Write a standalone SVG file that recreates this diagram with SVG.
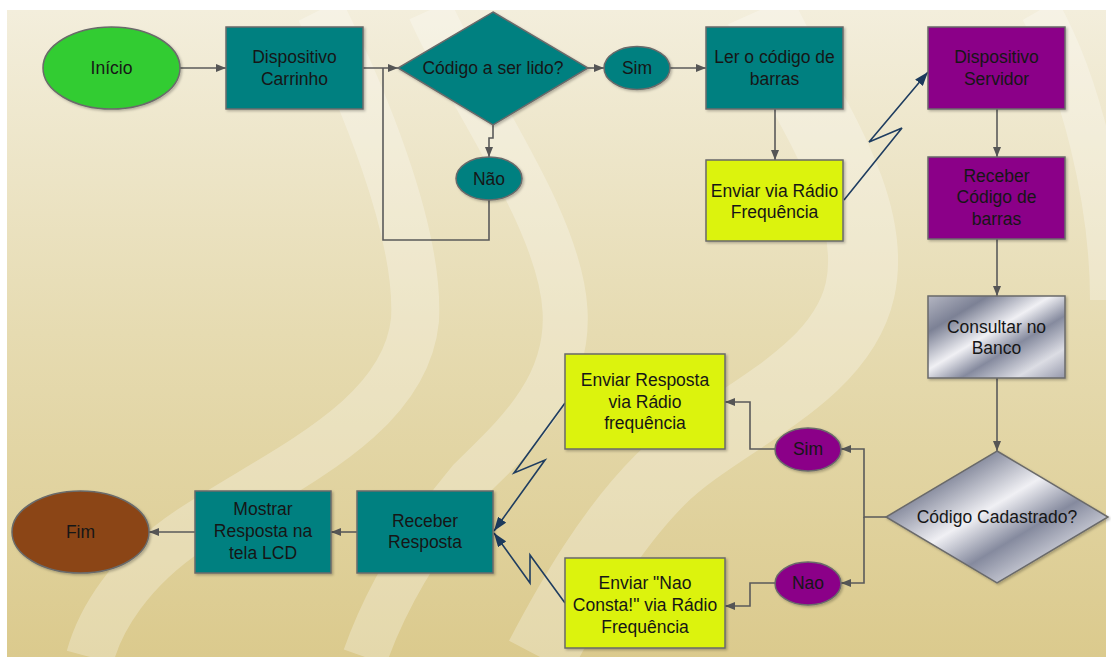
<svg xmlns="http://www.w3.org/2000/svg" width="1111" height="657" viewBox="0 0 1111 657">
<defs>
<linearGradient id="bg" x1="0" y1="0" x2="0" y2="1">
<stop offset="0" stop-color="#f3eedc"/>
<stop offset="0.5" stop-color="#e6dbb1"/>
<stop offset="1" stop-color="#dbca8d"/>
</linearGradient>
<linearGradient id="metal" x1="0" y1="0" x2="1" y2="1">
<stop offset="0" stop-color="#b4b6c2"/>
<stop offset="0.22" stop-color="#7c8195"/>
<stop offset="0.45" stop-color="#f0f0f4"/>
<stop offset="0.62" stop-color="#858a9e"/>
<stop offset="0.82" stop-color="#dcdde4"/>
<stop offset="1" stop-color="#9598ab"/>
</linearGradient>
<filter id="sh" x="-10%" y="-10%" width="125%" height="125%">
<feDropShadow dx="1.5" dy="1.5" stdDeviation="1.2" flood-color="#000" flood-opacity="0.25"/>
</filter>
<marker id="ag" viewBox="0 0 10 8" refX="10" refY="4" markerWidth="10" markerHeight="8" markerUnits="userSpaceOnUse" orient="auto">
<path d="M0,0 L10,4 L0,8 Z" fill="#555"/>
</marker>
<marker id="an" viewBox="0 0 14 10" refX="14" refY="5" markerWidth="14" markerHeight="10" markerUnits="userSpaceOnUse" orient="auto">
<path d="M0,0 L14,5 L0,10 Z" fill="#1c3a5c"/>
</marker>
<style>
.n{stroke:#6a6a6a;stroke-width:1.5;filter:url(#sh)}
.teal{fill:#008080}
.purp{fill:#8b0088}
.yel{fill:#dcf30a}
.t{font-family:"Liberation Sans",Arial,sans-serif;font-size:17.5px;fill:#161616;text-anchor:middle}
.c{fill:none;stroke:#5a5a5a;stroke-width:1.6}
.z{fill:none;stroke:#1f3d60;stroke-width:1.6;stroke-linejoin:miter}
.band{fill:none;stroke:#ffffff;stroke-opacity:0.27}
</style>
</defs>
<rect x="0" y="0" width="1111" height="657" fill="#ffffff"/>
<g id="background">
<rect x="7" y="10" width="1099" height="647" fill="url(#bg)"/>
<path class="band" stroke-width="48" d="M320,10 C360,90 420,230 415,320 C405,420 280,470 190,530 C130,570 100,620 90,657"/>
<path class="band" stroke-width="45" d="M430,10 C470,100 560,220 565,310 C570,390 510,440 470,480 C420,540 385,600 365,657"/>
<path class="band" stroke-width="70" d="M760,10 C800,100 880,200 860,290 C840,380 720,420 660,480 C610,530 570,600 540,657"/>
<path class="band" stroke-width="40" d="M1040,10 C1080,80 1110,200 1110,300"/>
</g>
<g id="connectors">
<path class="c" d="M180,68 H226" marker-end="url(#ag)"/>
<path class="c" d="M363,68 H398" marker-end="url(#ag)"/>
<path class="c" d="M489,200 V240 H383 V68"/>
<path class="c" d="M493,125 V138 H489 V157" marker-end="url(#ag)"/>
<path class="c" d="M588,68 H604" marker-end="url(#ag)"/>
<path class="c" d="M670,68 H706" marker-end="url(#ag)"/>
<path class="c" d="M775,109 V160" marker-end="url(#ag)"/>
<path class="z" d="M844,200 L902,128 L869,142 L928,72" marker-end="url(#an)"/>
<path class="c" d="M997,109 V157" marker-end="url(#ag)"/>
<path class="c" d="M997,239 V296" marker-end="url(#ag)"/>
<path class="c" d="M997,378 V451" marker-end="url(#ag)"/>
<path class="c" d="M886,517 H864 V449 H841" marker-end="url(#ag)"/>
<path class="c" d="M864,517 V583 H841" marker-end="url(#ag)"/>
<path class="c" d="M775,449 H750 V402 H725" marker-end="url(#ag)"/>
<path class="c" d="M775,583 H750 V606 H725" marker-end="url(#ag)"/>
<path class="z" d="M565,403 L514,473 L545,460 L494,531" marker-end="url(#an)"/>
<path class="z" d="M565,603 L530,555 L530,583 L494,533" marker-end="url(#an)"/>
<path class="c" d="M357,532 H331" marker-end="url(#ag)"/>
<path class="c" d="M195,532 H149" marker-end="url(#ag)"/>
</g>
<g id="inicio">
<ellipse class="n" cx="111.5" cy="68" rx="68.5" ry="41" fill="#33cc33"/>
<text class="t" x="111.5" y="74">Início</text>
</g>
<g id="carrinho">
<rect class="n teal" x="226" y="27" width="137" height="82"/>
<text class="t" x="294.5" y="63">Dispositivo</text>
<text class="t" x="294.5" y="85">Carrinho</text>
</g>
<g id="codigo-lido">
<path class="n teal" d="M493,12 L588,68 L493,125 L398,68 Z"/>
<text class="t" x="493" y="74">Código a ser lido?</text>
</g>
<g id="sim1">
<ellipse class="n teal" cx="637" cy="68" rx="33" ry="21.5"/>
<text class="t" x="637" y="74">Sim</text>
</g>
<g id="nao1">
<ellipse class="n teal" cx="489" cy="178.5" rx="33" ry="21.5"/>
<text class="t" x="489" y="185">Não</text>
</g>
<g id="ler">
<rect class="n teal" x="706" y="27" width="137" height="82"/>
<text class="t" x="774.5" y="63">Ler o código de</text>
<text class="t" x="774.5" y="85">barras</text>
</g>
<g id="enviar-rf">
<rect class="n yel" x="706" y="160" width="137" height="81"/>
<text class="t" x="774.5" y="197">Enviar via Rádio</text>
<text class="t" x="774.5" y="218">Frequência</text>
</g>
<g id="servidor">
<rect class="n purp" x="928" y="27" width="137" height="82"/>
<text class="t" x="996.5" y="63">Dispositivo</text>
<text class="t" x="996.5" y="85">Servidor</text>
</g>
<g id="receber-codigo">
<rect class="n purp" x="928" y="157" width="137" height="82"/>
<text class="t" x="996.5" y="182">Receber</text>
<text class="t" x="996.5" y="203">Código de</text>
<text class="t" x="996.5" y="225">barras</text>
</g>
<g id="consultar">
<rect class="n" x="928" y="296" width="137" height="82" fill="url(#metal)"/>
<text class="t" x="996.5" y="333">Consultar no</text>
<text class="t" x="996.5" y="354">Banco</text>
</g>
<g id="cadastrado">
<path class="n" d="M997,451 L1108,517 L997,583 L886,517 Z" fill="url(#metal)"/>
<text class="t" x="997" y="523">Código Cadastrado?</text>
</g>
<g id="sim2">
<ellipse class="n purp" cx="808" cy="449.5" rx="33" ry="21.5"/>
<text class="t" x="808" y="455">Sim</text>
</g>
<g id="nao2">
<ellipse class="n purp" cx="808" cy="583.5" rx="33" ry="21.5"/>
<text class="t" x="808" y="589">Nao</text>
</g>
<g id="enviar-resposta">
<rect class="n yel" x="565" y="354" width="160" height="95"/>
<text class="t" x="645" y="386">Enviar Resposta</text>
<text class="t" x="645" y="408">via Rádio</text>
<text class="t" x="645" y="429">frequência</text>
</g>
<g id="enviar-naoconsta">
<rect class="n yel" x="565" y="558" width="160" height="90"/>
<text class="t" x="645" y="589">Enviar "Nao</text>
<text class="t" x="645" y="611">Consta!" via Rádio</text>
<text class="t" x="645" y="633">Frequência</text>
</g>
<g id="receber-resposta">
<rect class="n teal" x="357" y="491" width="136" height="82"/>
<text class="t" x="425" y="527">Receber</text>
<text class="t" x="425" y="548">Resposta</text>
</g>
<g id="mostrar">
<rect class="n teal" x="195" y="491" width="136" height="82"/>
<text class="t" x="263" y="515">Mostrar</text>
<text class="t" x="263" y="537">Resposta na</text>
<text class="t" x="263" y="559">tela LCD</text>
</g>
<g id="fim">
<ellipse class="n" cx="80.5" cy="532" rx="68.5" ry="41" fill="#8b4513"/>
<text class="t" x="80.5" y="538">Fim</text>
</g>
</svg>
